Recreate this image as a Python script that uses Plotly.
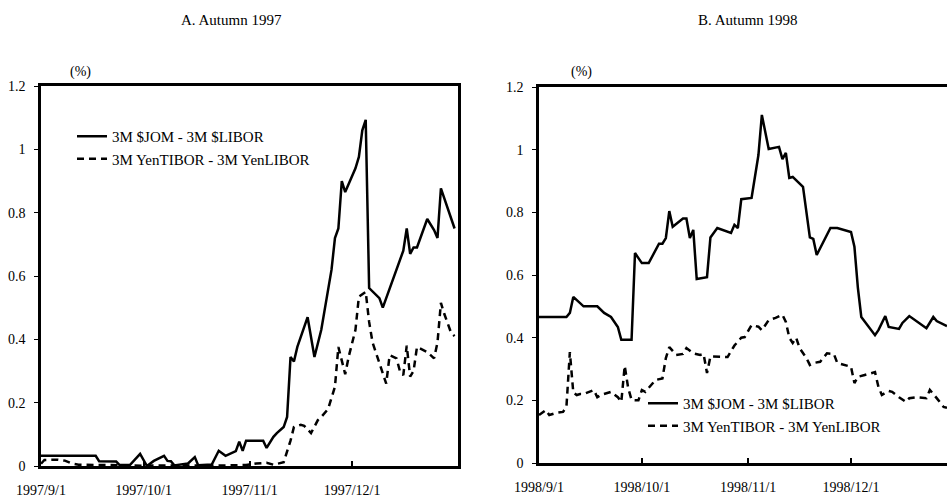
import plotly.graph_objects as go

# ---- Autumn 1997 ----
dates_97_jom = [
    "1997-09-01", "1997-09-17", "1997-09-18", "1997-09-23", "1997-09-24", "1997-09-27",
    "1997-09-30", "1997-10-02", "1997-10-04", "1997-10-07", "1997-10-08", "1997-10-09",
    "1997-10-10", "1997-10-14", "1997-10-16", "1997-10-17", "1997-10-21", "1997-10-23",
    "1997-10-25", "1997-10-28", "1997-10-29", "1997-10-30", "1997-10-31", "1997-11-05",
    "1997-11-06", "1997-11-08", "1997-11-09", "1997-11-11", "1997-11-12", "1997-11-13",
    "1997-11-14", "1997-11-15", "1997-11-18", "1997-11-20", "1997-11-22", "1997-11-25",
    "1997-11-26", "1997-11-27", "1997-11-28", "1997-11-29", "1997-12-02", "1997-12-03",
    "1997-12-04", "1997-12-05", "1997-12-06", "1997-12-09", "1997-12-10", "1997-12-16",
    "1997-12-17", "1997-12-18", "1997-12-19", "1997-12-20", "1997-12-23", "1997-12-25",
    "1997-12-26", "1997-12-27", "1997-12-31",
]
jom_97 = [
    0.032, 0.032, 0.015, 0.014, 0.003, 0.003,
    0.038, 0.0, 0.016, 0.032, 0.016, 0.015,
    0.002, 0.008, 0.028, 0.002, 0.005, 0.048,
    0.032, 0.047, 0.077, 0.048, 0.08, 0.08,
    0.057, 0.092, 0.104, 0.123, 0.155, 0.344,
    0.33, 0.376, 0.47, 0.344, 0.43, 0.62,
    0.72, 0.75, 0.90, 0.865, 0.94, 0.976,
    1.06, 1.093, 0.562, 0.53, 0.50, 0.68,
    0.75, 0.67, 0.69, 0.69, 0.78, 0.745,
    0.72, 0.877, 0.75,
]

dates_97_tibor = [
    "1997-09-01", "1997-09-02", "1997-09-06", "1997-09-08", "1997-09-10", "1997-09-12",
    "1997-09-21", "1997-10-01", "1997-10-11", "1997-10-21", "1997-10-31", "1997-11-03",
    "1997-11-06", "1997-11-08", "1997-11-11", "1997-11-13", "1997-11-14", "1997-11-16",
    "1997-11-17", "1997-11-19", "1997-11-21", "1997-11-22", "1997-11-24", "1997-11-26",
    "1997-11-27", "1997-11-29", "1997-11-30", "1997-12-02", "1997-12-03", "1997-12-05",
    "1997-12-06", "1997-12-07", "1997-12-09", "1997-12-11", "1997-12-12", "1997-12-14",
    "1997-12-15", "1997-12-16", "1997-12-17", "1997-12-18", "1997-12-19", "1997-12-20",
    "1997-12-23", "1997-12-25", "1997-12-26", "1997-12-27", "1997-12-28", "1997-12-30",
    "1997-12-31",
]
tibor_97 = [
    0.007, 0.019, 0.02, 0.017, 0.008, 0.004,
    0.003, 0.001, 0.002, 0.001, 0.003, 0.008,
    0.01, 0.004, 0.012, 0.08, 0.123, 0.13,
    0.127, 0.104, 0.145, 0.155, 0.18, 0.25,
    0.376, 0.29, 0.344, 0.43, 0.535, 0.55,
    0.455, 0.39, 0.325, 0.26, 0.35, 0.34,
    0.30, 0.287, 0.38, 0.282, 0.30, 0.376,
    0.36, 0.34, 0.39, 0.515, 0.48, 0.42,
    0.41,
]

# ---- Autumn 1998 ----
dates_98_jom = [
    "1998-09-01", "1998-09-09", "1998-09-10", "1998-09-11", "1998-09-14", "1998-09-18",
    "1998-09-20", "1998-09-22", "1998-09-24", "1998-09-25", "1998-09-28", "1998-09-29",
    "1998-10-01", "1998-10-03", "1998-10-06", "1998-10-07", "1998-10-08", "1998-10-09",
    "1998-10-10", "1998-10-13", "1998-10-14", "1998-10-15", "1998-10-16", "1998-10-17",
    "1998-10-20", "1998-10-21", "1998-10-23", "1998-10-27", "1998-10-28", "1998-10-29",
    "1998-10-30", "1998-11-02", "1998-11-04", "1998-11-05", "1998-11-07", "1998-11-10",
    "1998-11-11", "1998-11-12", "1998-11-13", "1998-11-14", "1998-11-17", "1998-11-18",
    "1998-11-19", "1998-11-20", "1998-11-21", "1998-11-25", "1998-11-27", "1998-12-01",
    "1998-12-02", "1998-12-03", "1998-12-04", "1998-12-08", "1998-12-09", "1998-12-11",
    "1998-12-12", "1998-12-15", "1998-12-16", "1998-12-18", "1998-12-23", "1998-12-25",
    "1998-12-26", "1998-12-29",
]
jom_98 = [
    0.466, 0.466, 0.479, 0.53, 0.50, 0.50,
    0.479, 0.466, 0.434, 0.393, 0.393, 0.67,
    0.638, 0.638, 0.70, 0.70, 0.718, 0.804,
    0.754, 0.78, 0.78, 0.718, 0.744, 0.587,
    0.593, 0.72, 0.75, 0.734, 0.76, 0.75,
    0.842, 0.846, 0.983, 1.111, 1.002, 1.009,
    0.97, 0.99, 0.91, 0.913, 0.881, 0.807,
    0.72, 0.715, 0.664, 0.75, 0.75, 0.737,
    0.69, 0.56, 0.466, 0.408, 0.424, 0.469,
    0.434, 0.428, 0.447, 0.469, 0.43, 0.466,
    0.453, 0.437,
]

dates_98_tibor = [
    "1998-09-01", "1998-09-03", "1998-09-04", "1998-09-06", "1998-09-08", "1998-09-09",
    "1998-09-10", "1998-09-11", "1998-09-12", "1998-09-13", "1998-09-14", "1998-09-16",
    "1998-09-17", "1998-09-18", "1998-09-19", "1998-09-22", "1998-09-24", "1998-09-25",
    "1998-09-26", "1998-09-27", "1998-09-28", "1998-09-30", "1998-10-01", "1998-10-02",
    "1998-10-03", "1998-10-05", "1998-10-07", "1998-10-08", "1998-10-09", "1998-10-11",
    "1998-10-13", "1998-10-14", "1998-10-16", "1998-10-18", "1998-10-19", "1998-10-20",
    "1998-10-21", "1998-10-24", "1998-10-26", "1998-10-28", "1998-10-30", "1998-10-31",
    "1998-11-02", "1998-11-04", "1998-11-05", "1998-11-07", "1998-11-09", "1998-11-11",
    "1998-11-12", "1998-11-13", "1998-11-14", "1998-11-15", "1998-11-16", "1998-11-18",
    "1998-11-19", "1998-11-20", "1998-11-22", "1998-11-24", "1998-11-26", "1998-11-27",
    "1998-11-29", "1998-12-01", "1998-12-02", "1998-12-03", "1998-12-05", "1998-12-07",
    "1998-12-08", "1998-12-09", "1998-12-10", "1998-12-12", "1998-12-13", "1998-12-15",
    "1998-12-17", "1998-12-18", "1998-12-20", "1998-12-23", "1998-12-24", "1998-12-26",
    "1998-12-28", "1998-12-29",
]
tibor_98 = [
    0.153, 0.169, 0.153, 0.16, 0.163, 0.179,
    0.354, 0.225, 0.217, 0.22, 0.22, 0.227,
    0.233, 0.21, 0.217, 0.227, 0.21, 0.195,
    0.31, 0.24, 0.201, 0.2, 0.233, 0.227,
    0.24, 0.265, 0.27, 0.335, 0.37, 0.345,
    0.348, 0.367, 0.35, 0.345, 0.348, 0.287,
    0.34, 0.338, 0.338, 0.375, 0.40, 0.402,
    0.44, 0.435, 0.424, 0.456, 0.463, 0.473,
    0.45, 0.40, 0.383, 0.40, 0.367, 0.335,
    0.313, 0.319, 0.323, 0.35, 0.348, 0.319,
    0.313, 0.307, 0.255, 0.275, 0.281, 0.287,
    0.29, 0.243, 0.217, 0.23, 0.227, 0.21,
    0.195, 0.207, 0.21, 0.207, 0.233, 0.207,
    0.179, 0.176,
]

tick_dates_97 = ["1997-09-01", "1997-10-01", "1997-11-01", "1997-12-01"]
tick_text_97 = ["1997/9/1", "1997/10/1", "1997/11/1", "1997/12/1"]
tick_dates_98 = ["1998-09-01", "1998-10-01", "1998-11-01", "1998-12-01"]
tick_text_98 = ["1998/9/1", "1998/10/1", "1998/11/1", "1998/12/1"]
y_ticks = [0, 0.2, 0.4, 0.6, 0.8, 1.0, 1.2]
y_text = ["0", "0.2", "0.4", "0.6", "0.8", "1", "1.2"]

name_jom = "3M $JOM - 3M $LIBOR"
name_tibor = "3M YenTIBOR - 3M YenLIBOR"

FONT = "Liberation Serif"
W, H = 947, 499
DASH = "7px,5px"

fig = go.Figure()

fig.add_trace(go.Scatter(x=dates_97_jom, y=jom_97, mode="lines", name=name_jom,
                         line=dict(color="black", width=2.5), xaxis="x", yaxis="y",
                         legend="legend"))
fig.add_trace(go.Scatter(x=dates_97_tibor, y=tibor_97, mode="lines", name=name_tibor,
                         line=dict(color="black", width=2.5, dash=DASH), xaxis="x", yaxis="y",
                         legend="legend"))
fig.add_trace(go.Scatter(x=dates_98_jom, y=jom_98, mode="lines", name=name_jom,
                         line=dict(color="black", width=2.5), xaxis="x2", yaxis="y2",
                         legend="legend2"))
fig.add_trace(go.Scatter(x=dates_98_tibor, y=tibor_98, mode="lines", name=name_tibor,
                         line=dict(color="black", width=2.5, dash=DASH), xaxis="x2", yaxis="y2",
                         legend="legend2"))

axis_common = dict(showgrid=False, zeroline=False, showline=True, linecolor="black",
                   linewidth=2.5, automargin=False,
                   tickfont=dict(family=FONT, size=14, color="black"))

xcommon = dict(axis_common, type="date", ticks="inside", ticklen=5, tickwidth=1.5,
               tickcolor="black", mirror=True, ticklabelstandoff=9)
ycommon = dict(axis_common, range=[0, 1.2], tickvals=y_ticks, ticktext=y_text,
               ticks="outside", ticklen=4, tickwidth=1, tickcolor="black",
               ticklabelstandoff=6)

legend_font = dict(family=FONT, size=15, color="black")

fig.update_layout(
    template="none",
    width=W, height=H,
    margin=dict(l=0, r=0, t=0, b=0, autoexpand=False),
    paper_bgcolor="white", plot_bgcolor="white",
    font=dict(family=FONT, size=14, color="black"),
    xaxis=dict(xcommon, domain=[41 / W, 458 / W], range=["1997-09-01", "1998-01-01"],
               tickvals=tick_dates_97, ticktext=tick_text_97, anchor="y"),
    yaxis=dict(ycommon, domain=[1 - 466 / H, 1 - 86 / H], anchor="x", mirror=True),
    xaxis2=dict(xcommon, domain=[539 / W, 1.0], range=["1998-09-01", "1998-12-29"],
                tickvals=tick_dates_98, ticktext=tick_text_98, anchor="y2"),
    yaxis2=dict(ycommon, domain=[1 - 463 / H, 1 - 87 / H], anchor="x2"),
    legend=dict(x=72 / W, y=1 - 120 / H, xanchor="left", yanchor="top",
                bgcolor="rgba(0,0,0,0)", borderwidth=0, font=legend_font),
    legend2=dict(x=643 / W, y=1 - 387 / H, xanchor="left", yanchor="top",
                 bgcolor="rgba(0,0,0,0)", borderwidth=0, font=legend_font),
    annotations=[
        dict(text="A. Autumn 1997", x=231 / W, y=1 - 20 / H, xref="paper", yref="paper",
             showarrow=False, font=dict(family=FONT, size=15), xanchor="center", yanchor="middle"),
        dict(text="B. Autumn 1998", x=748 / W, y=1 - 20 / H, xref="paper", yref="paper",
             showarrow=False, font=dict(family=FONT, size=15), xanchor="center", yanchor="middle"),
        dict(text="(%)", x=80 / W, y=1 - 72 / H, xref="paper", yref="paper",
             showarrow=False, font=dict(family=FONT, size=14), xanchor="center", yanchor="middle"),
        dict(text="(%)", x=581 / W, y=1 - 72 / H, xref="paper", yref="paper",
             showarrow=False, font=dict(family=FONT, size=14), xanchor="center", yanchor="middle"),
    ],
)

fig.write_html("out.html")
